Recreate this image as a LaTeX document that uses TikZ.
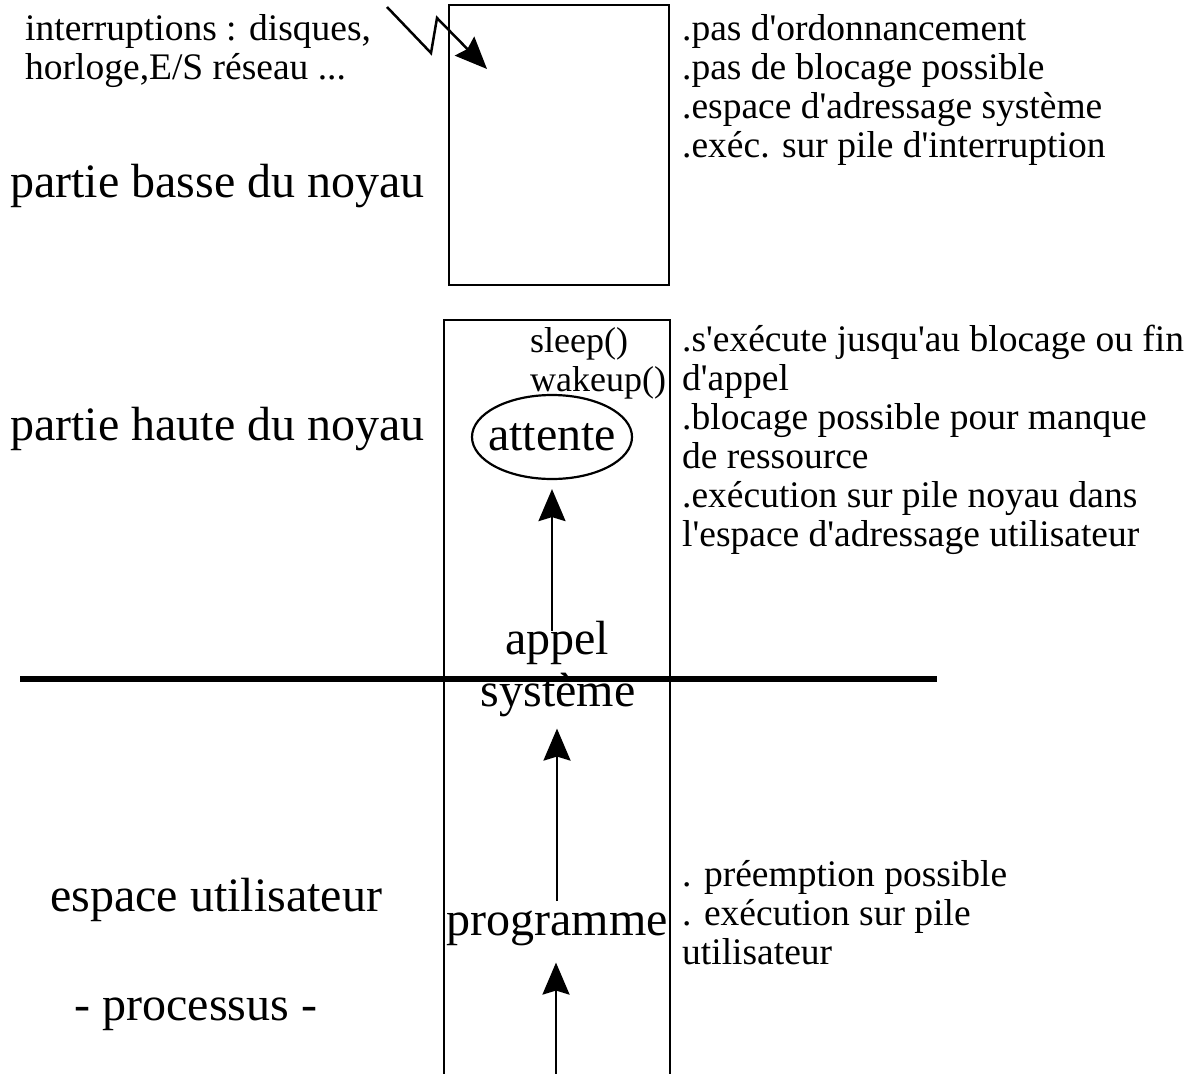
\documentclass[tikz,border=0pt]{standalone}
\usepackage{fontspec}
\setmainfont{Liberation Serif}[Ligatures=TeXOff]
\usetikzlibrary{arrows.meta,shapes.geometric}
\begin{document}
\begin{tikzpicture}[x=1pt,y=-1pt,
  small/.style={font=\fontsize{37.5}{39}\selectfont, inner sep=0pt, align=left, anchor=base west},
  big/.style={font=\fontsize{48}{52}\selectfont, inner sep=0pt},
  frame/.style={line width=2.6pt},
  arr/.style={line width=2.4pt, -{Stealth[length=32pt,width=27pt,inset=4pt]}}
]
\useasboundingbox (0,0) rectangle (1200,1074);
\fill[white] (0,0) rectangle (1200,1074);
% boxes
\node[draw, frame, minimum width=220pt, minimum height=280pt, inner sep=0pt] (topbox) at (559,145) {};
\coordinate (mbl) at (444,1074);
\coordinate (mtl) at (444,320);
\coordinate (mtr) at (670,320);
\coordinate (mbr) at (670,1074);
\draw[frame] (mbl) -- (mtl) -- (mtr) -- (mbr);
% separator
\coordinate (sepl) at (20,679);
\coordinate (sepr) at (937,679);
\draw[line width=5.5pt] (sepl) -- (sepr);
% texts (multi-line nodes: base = baseline of the last line)
\node[small] (intr) at (25,79) {interruptions : disques,\\horloge,E/S réseau ...};
\node[small] (rt) at (682,157) {.pas d'ordonnancement\\.pas de blocage possible\\.espace d'adressage système\\.exéc. sur pile d'interruption};
\node[big, anchor=base west] (pb) at (10,197) {partie basse du noyau};
\node[big, anchor=base west] (ph) at (10,440) {partie haute du noyau};
\node[small, font=\fontsize{36}{39}\selectfont] (sl) at (530,391) {sleep()\\wakeup()};
\node[big, draw, ellipse, line width=2.2pt, inner xsep=-10pt, inner ysep=0pt, minimum width=160pt, minimum height=84pt] (att) at (552,437) {attente};
\node[small] (rm) at (682,546) {.s'exécute jusqu'au blocage ou fin\\d'appel\\.blocage possible pour manque\\de ressource\\.exécution sur pile noyau dans\\l'espace d'adressage utilisateur};
\node[big, anchor=base] (ap) at (557,654) {appel};
\node[big, anchor=base] (sy) at (558,706) {système};
\node[big, anchor=base] (pg) at (557,935) {programme};
\node[small] (rb) at (682,964) {. préemption possible\\. exécution sur pile\\utilisateur};
\node[big, anchor=base west] (eu) at (50,911) {espace utilisateur};
\node[big, anchor=base] (pr) at (196,1020) {- processus -};
% lightning
\coordinate (z0) at (387,7);
\coordinate (z1) at (431,53);
\coordinate (z2) at (437,18);
\coordinate (z3) at (487,69);
\draw[arr, line width=2.5pt, line join=miter] (z0) -- (z1) -- (z2) -- (z3);
% arrows
\draw[arr, shorten <=-10pt, shorten >=9pt] (ap.north -| att.south) -- (att.south);
\draw[arr, shorten <=9pt, shorten >=12pt] (pg.north) -- (sy.south -| pg.north);
\coordinate (bot) at (556,1074);
\draw[arr, shorten >=17pt] (bot) -- (pg.south -| bot);
\end{tikzpicture}
\end{document}
